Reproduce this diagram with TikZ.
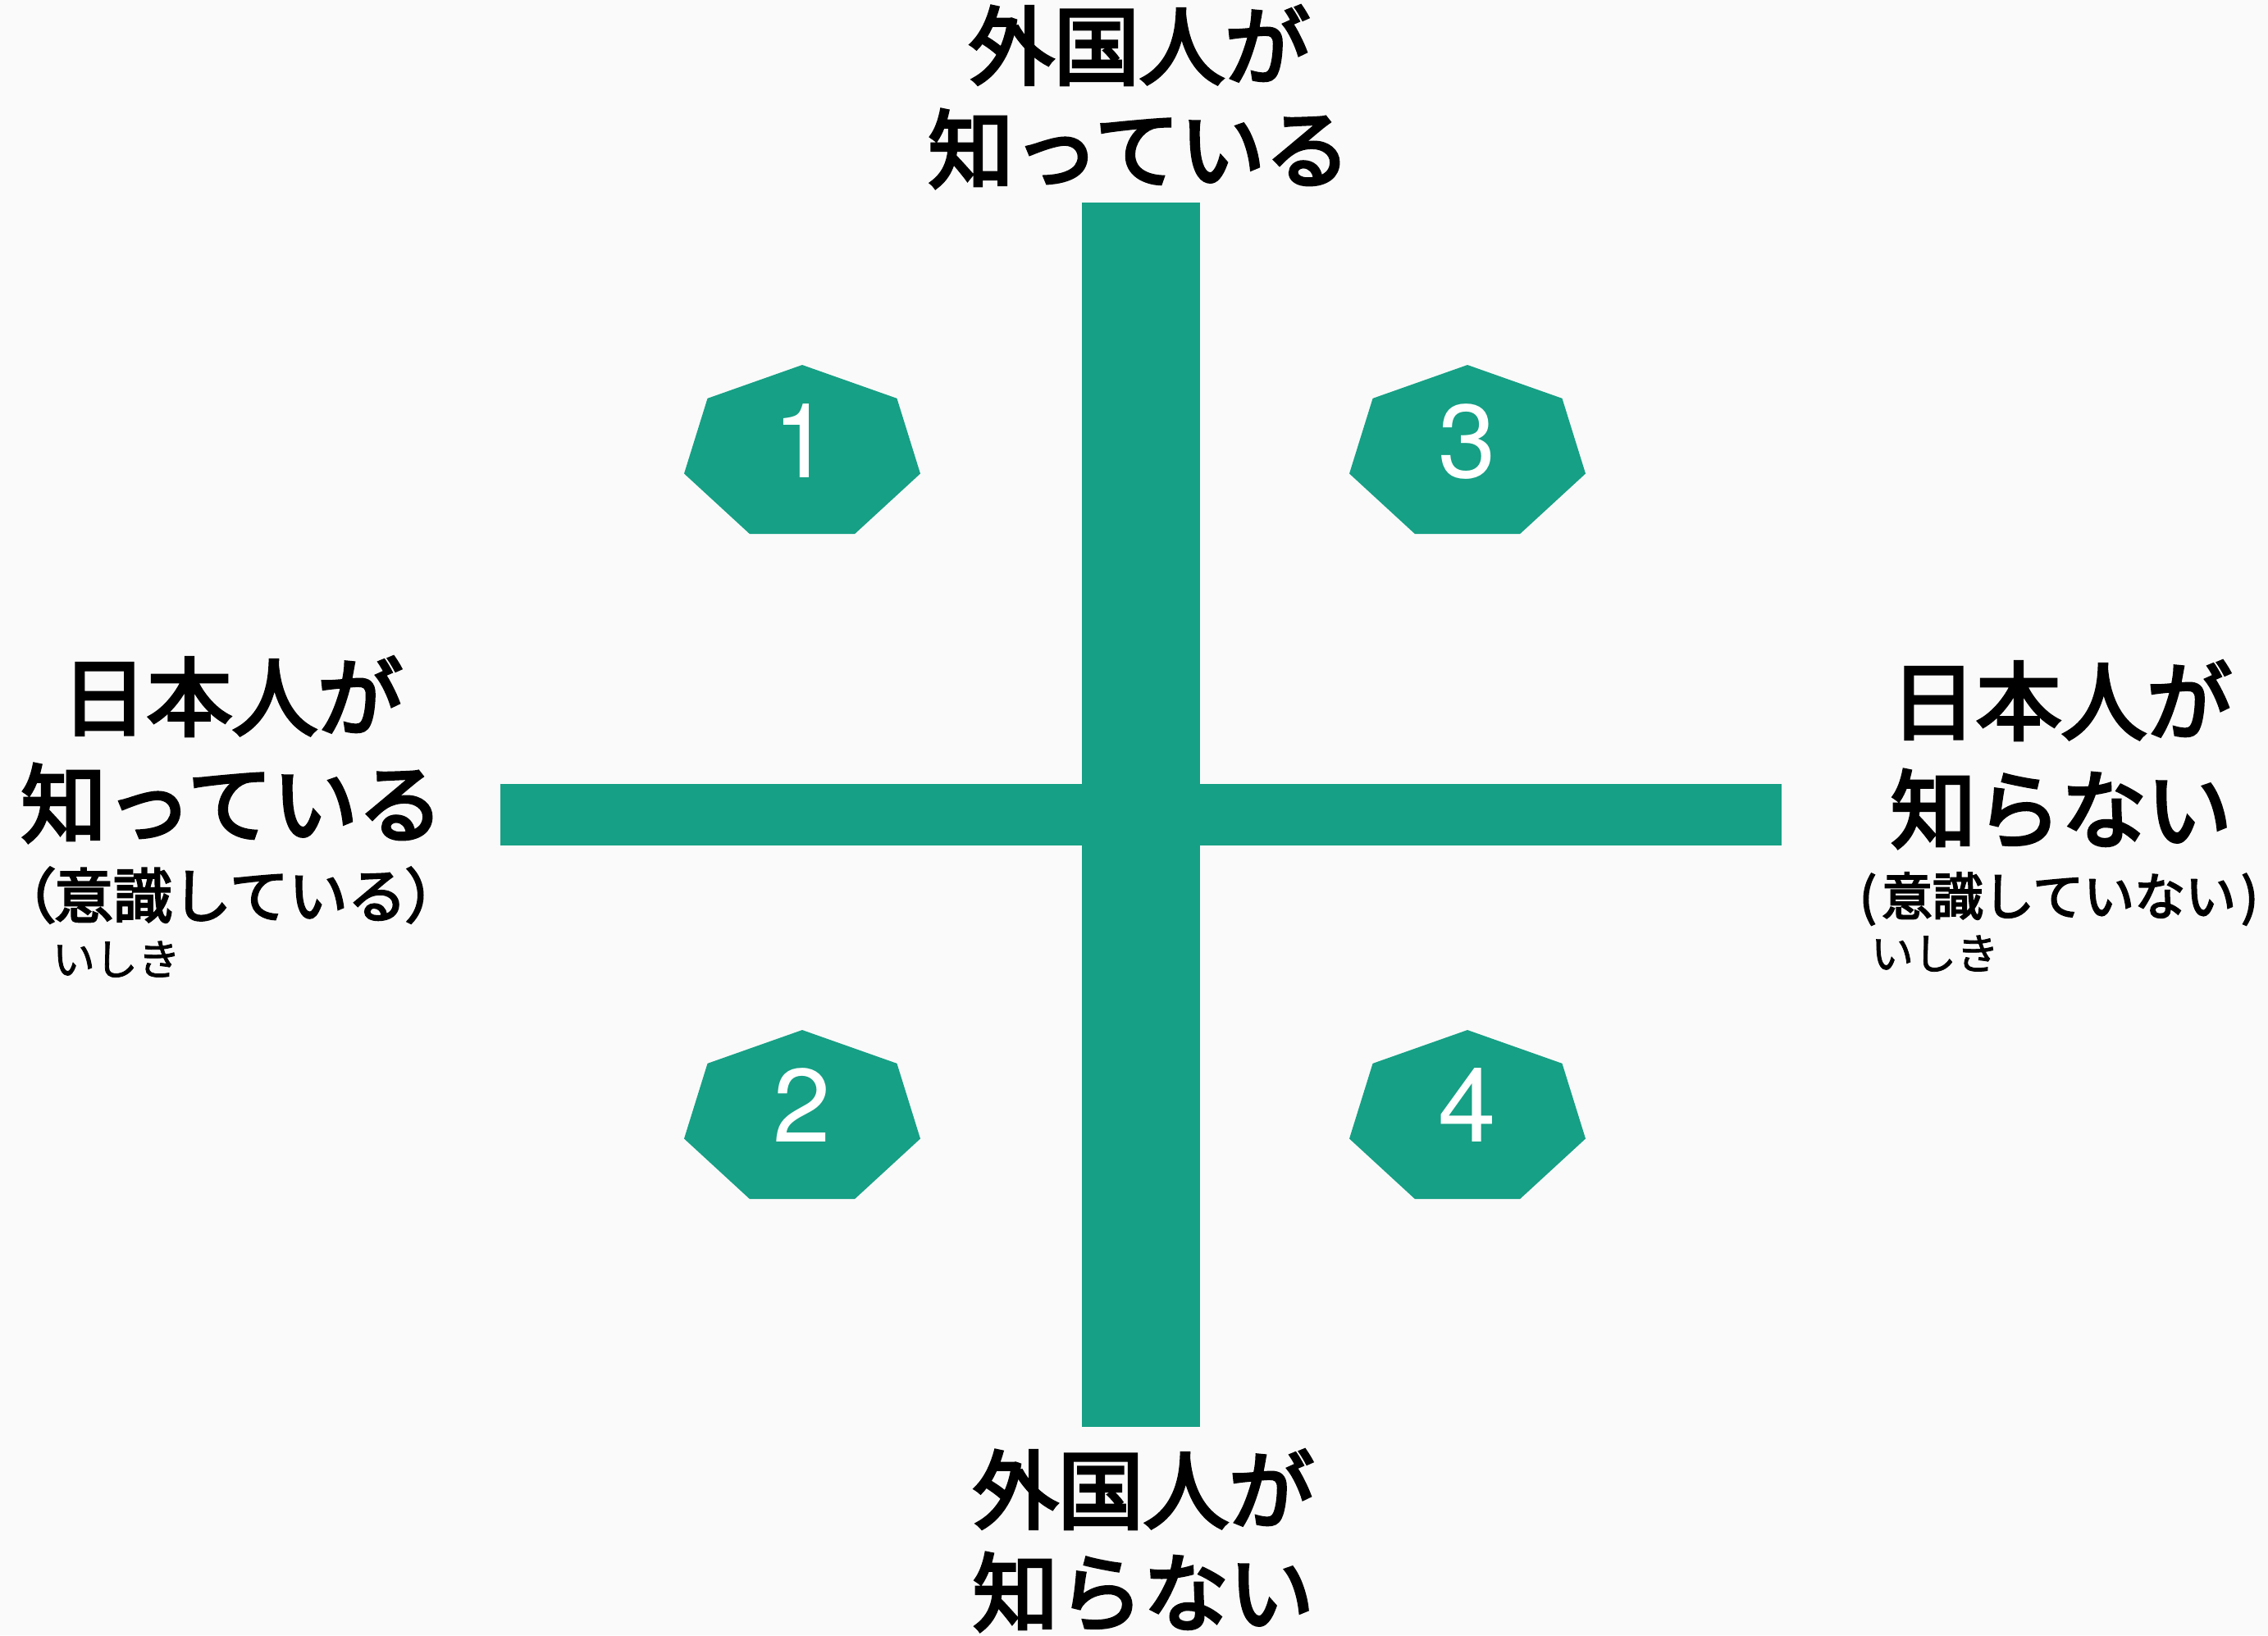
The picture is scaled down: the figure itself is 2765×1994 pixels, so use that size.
\documentclass[tikz,border=0pt]{standalone}
\usepackage{fontspec}
\setmainfont{TeX Gyre Heros}
\newfontfamily\jp{Noto Sans CJK JP}[FakeBold=1.5]
\newfontfamily\jpm{Noto Sans CJK JP}[FakeBold=3.8]
\newfontfamily\jps{Noto Sans CJK JP}[FakeBold=3.2]
\newcommand{\lpar}{{\addfontfeature{RawFeature=+palt}（}}
\newcommand{\rpar}{{\addfontfeature{RawFeature=+palt}）}}
\definecolor{teal1}{HTML}{16A085}
\definecolor{bgc}{HTML}{FAFAFA}
\tikzset{
  bar/.style={fill=teal1, draw=none},
  hept/.style={fill=teal1, draw=none},
  digit/.style={inner sep=0pt, outer sep=0pt, anchor=base, text=white, font=\fontsize{63.4pt}{70pt}\selectfont},
  mainlbl/.style={inner sep=0pt, outer sep=0pt, anchor=base, font=\jpm\fontsize{52pt}{60pt}\selectfont},
  sublblL/.style={inner sep=0pt, outer sep=0pt, anchor=base, font=\jps\fontsize{36pt}{42pt}\selectfont},
  sublblR/.style={inner sep=0pt, outer sep=0pt, anchor=base, font=\jps\fontsize{31pt}{36pt}\selectfont},
  ruby/.style={inner sep=0pt, outer sep=0pt, anchor=base west, font=\jp\fontsize{26pt}{30pt}\selectfont},
}
\newcommand{\heptagon}[2]{%
  \fill[hept] ({#1+147.7*cos(90)},{#2-108.4*sin(90)})
    \foreach \k in {1,...,6} { -- ({#1+147.7*cos(90+\k*360/7)},{#2-108.4*sin(90+\k*360/7)}) } -- cycle;}
\begin{document}
\begin{tikzpicture}[x=0.5pt,y={(0pt,-0.5pt)}]
\fill[bgc] (0,0) rectangle (2765,1994);
\useasboundingbox (0,0) rectangle (2765,1994);
% cross
\fill[bar] (610,956) rectangle (2172,1031);
\fill[bar] (1319,247) rectangle (1463,1740);
% heptagons
\heptagon{978}{553.4}
\heptagon{1789}{553.4}
\heptagon{978}{1364.4}
\heptagon{1789}{1364.4}
\node[digit] (n1) at (978,582) {1};
\node[digit] (n3) at (1789,582) {3};
\node[digit] (n2) at (978,1392) {2};
\node[digit] (n4) at (1789,1392) {4};
% top
\node[mainlbl] (top1) at (1389,95) {外国人が};
\node[mainlbl] (top2) at (1389,221) {知っている};
% bottom
\node[mainlbl] (bot1) at (1394,1856) {外国人が};
\node[mainlbl] (bot2) at (1394,1981) {知らない};
% left
\node[mainlbl] (left1) at (283,889) {日本人が};
\node[mainlbl] (left2) at (283,1019) {知っている};
\node[sublblL] (left3) at (281,1119) {\lpar 意識している\rpar};
\node[ruby] (left4) at (64,1189) {いしき};
% right
\node[mainlbl] (right1) at (2513,894) {日本人が};
\node[mainlbl] (right2) at (2513,1026) {知らない};
\node[sublblR] (right3) at (2510,1116) {(\hspace{0.1em}意識していない\hspace{0.1em})};
\node[ruby] (right4) at (2281,1182) {いしき};
\end{tikzpicture}
\end{document}
